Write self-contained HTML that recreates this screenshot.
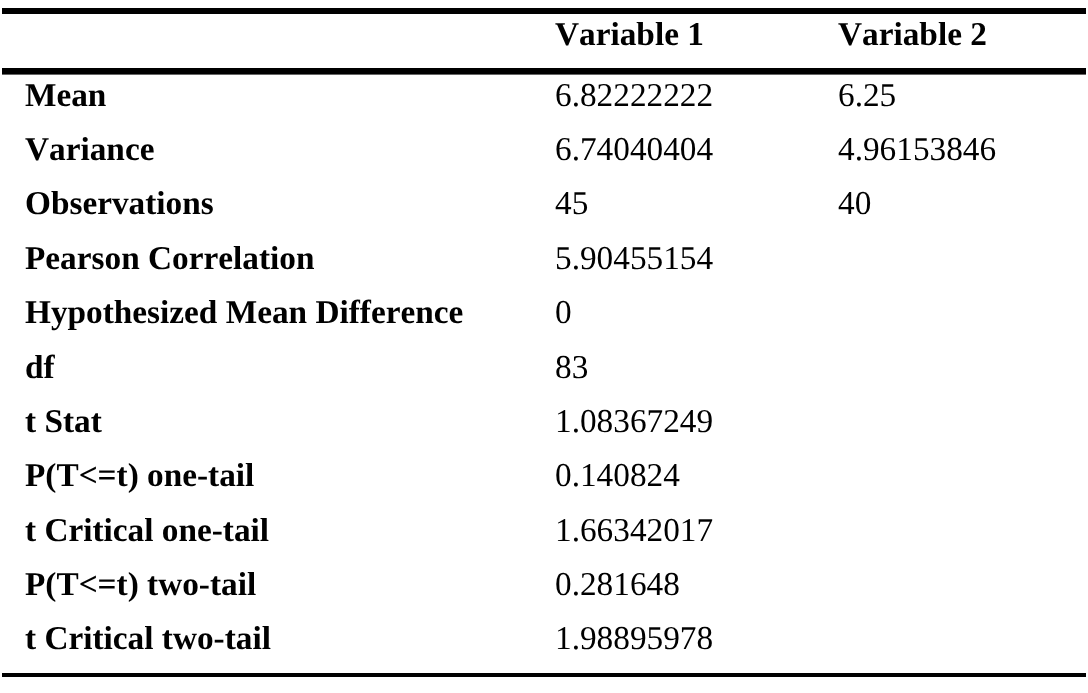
<!DOCTYPE html>
<html><head><meta charset="utf-8"><title>t-Test</title>
<style>
html,body{margin:0;padding:0;background:#fff;}
body{width:1088px;height:693px;position:relative;overflow:hidden;font-family:"Liberation Serif",serif;font-size:33.3px;color:#000;font-kerning:none;font-variant-ligatures:none;text-rendering:geometricPrecision;}
.r{position:absolute;background:#000;left:2px;width:1084px;}
.t{will-change:transform;position:absolute;white-space:nowrap;line-height:33.3px;height:33.3px;}
.b{font-weight:bold;}
</style></head><body>
<div class="r" style="top:8px;height:6px"></div>
<div class="r" style="top:68px;height:6px"></div>
<div class="r" style="top:673px;height:4px"></div>
<div class="r" style="top:74px;height:1px;background:#666"></div>
<div class="t b" style="left:555px;top:18px">Variable 1</div>
<div class="t b" style="left:838px;top:18px">Variable 2</div>
<div class="t b" style="left:25px;top:79.00px;letter-spacing:0px">Mean</div>
<div class="t" style="left:555px;top:79.00px;letter-spacing:0px">6.82222222</div>
<div class="t" style="left:838px;top:79.00px;letter-spacing:0px">6.25</div>
<div class="t b" style="left:25px;top:133.30px;letter-spacing:0px">Variance</div>
<div class="t" style="left:555px;top:133.30px;letter-spacing:0px">6.74040404</div>
<div class="t" style="left:838px;top:133.30px;letter-spacing:0px">4.96153846</div>
<div class="t b" style="left:25px;top:186.60px;letter-spacing:0px">Observations</div>
<div class="t" style="left:555px;top:186.60px;letter-spacing:0px">45</div>
<div class="t" style="left:838px;top:186.60px;letter-spacing:0px">40</div>
<div class="t b" style="left:25px;top:241.90px;letter-spacing:0px">Pearson Correlation</div>
<div class="t" style="left:555px;top:241.90px;letter-spacing:0px">5.90455154</div>
<div class="t b" style="left:25px;top:296.20px;letter-spacing:0px">Hypothesized Mean Difference</div>
<div class="t" style="left:555px;top:296.20px;letter-spacing:0px">0</div>
<div class="t b" style="left:25px;top:350.50px;letter-spacing:0px">df</div>
<div class="t" style="left:555px;top:350.50px;letter-spacing:0px">83</div>
<div class="t b" style="left:25px;top:404.50px;letter-spacing:0px">t Stat</div>
<div class="t" style="left:555px;top:404.50px;letter-spacing:0px">1.08367249</div>
<div class="t b" style="left:25px;top:459.10px;letter-spacing:0px">P(T&lt;=t) one-tail</div>
<div class="t" style="left:555px;top:459.10px;letter-spacing:0px">0.140824</div>
<div class="t b" style="left:25px;top:514.10px;letter-spacing:0px">t Critical one-tail</div>
<div class="t" style="left:555px;top:514.10px;letter-spacing:0px">1.66342017</div>
<div class="t b" style="left:25px;top:567.70px;letter-spacing:0px">P(T&lt;=t) two-tail</div>
<div class="t" style="left:555px;top:567.70px;letter-spacing:0px">0.281648</div>
<div class="t b" style="left:25px;top:622.00px;letter-spacing:0px">t Critical two-tail</div>
<div class="t" style="left:555px;top:622.00px;letter-spacing:0px">1.98895978</div>
</body></html>
